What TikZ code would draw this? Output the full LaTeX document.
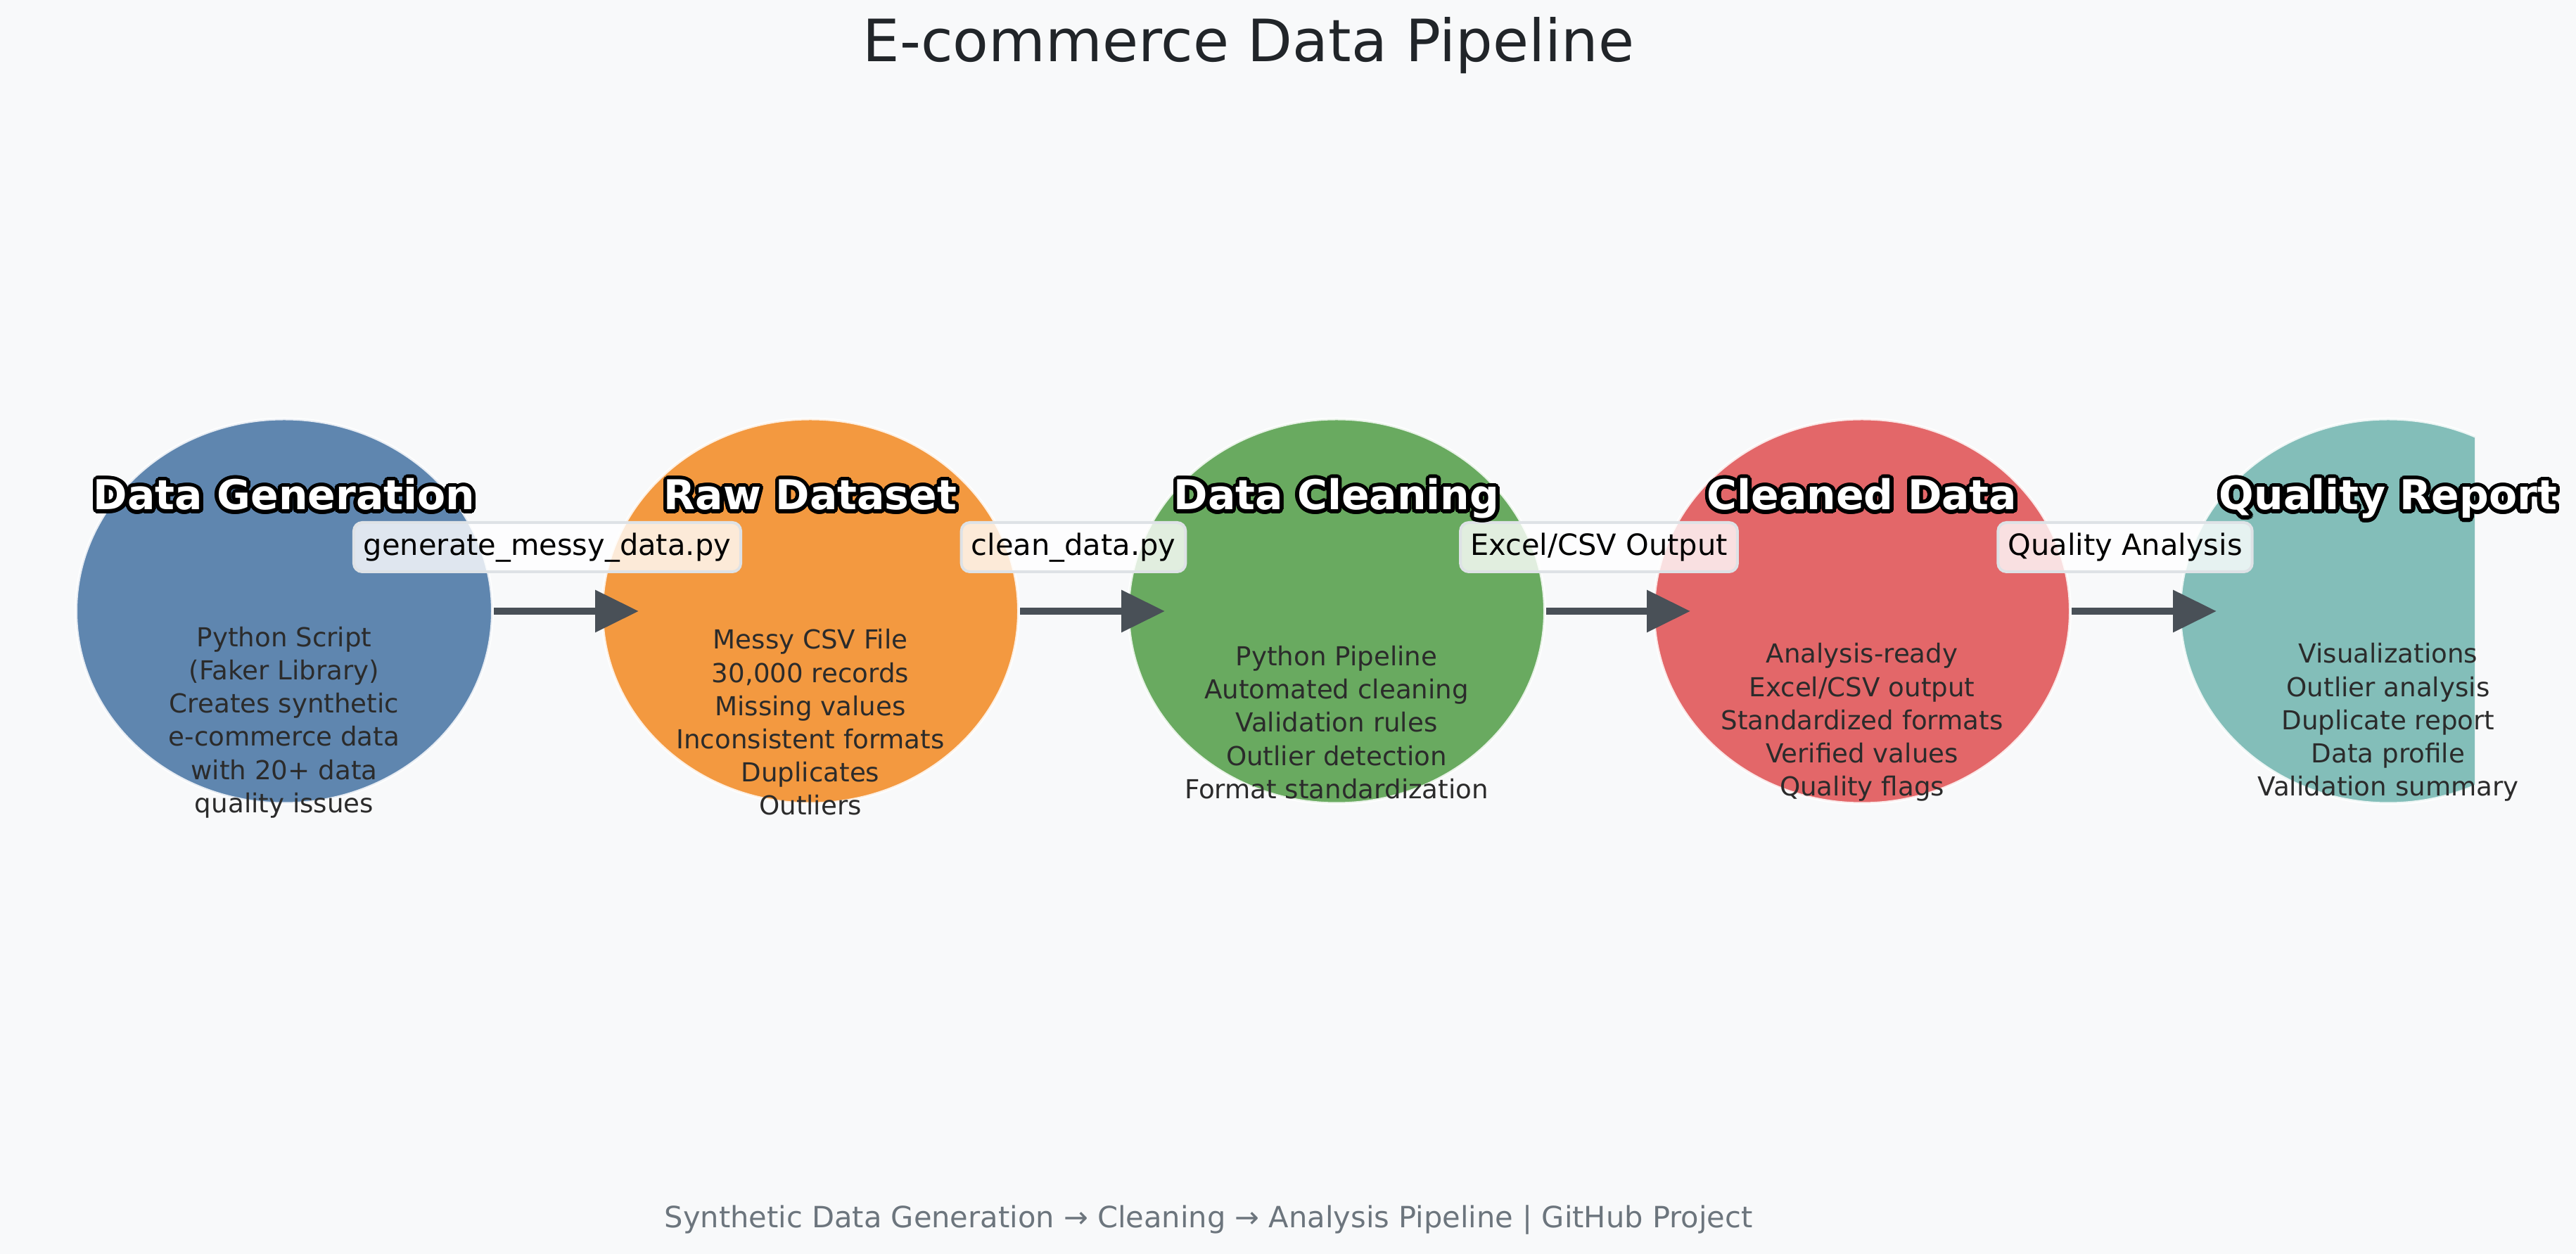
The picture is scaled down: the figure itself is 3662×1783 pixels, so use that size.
\documentclass[tikz,border=0pt]{standalone}
\usepackage{fontspec}
\setmainfont{DejaVu Sans}
\usetikzlibrary{shapes.geometric,arrows.meta}
\definecolor{bg}{HTML}{F8F9FA}
\definecolor{cblue}{RGB}{95,134,175}
\definecolor{corange}{RGB}{243,153,64}
\definecolor{cgreen}{RGB}{105,170,96}
\definecolor{cred}{RGB}{227,103,105}
\definecolor{cteal}{RGB}{131,190,185}
\definecolor{titlecol}{HTML}{212529}
\definecolor{bodycol}{HTML}{2B2B2B}
\definecolor{arrowcol}{HTML}{495057}
\definecolor{lblborder}{HTML}{DEE2E6}
\definecolor{footcol}{HTML}{6C757D}
\newcommand\stagehead[4]{%
  \foreach \a in {0,20,...,340}{\node[headfont,text=black,anchor=base] at ([shift={(\a:1.4pt)}]#2,#3) {#4};}
  \node[headfont,text=white,anchor=base] (#1) at (#2,#3) {#4};}
\begin{document}
\begin{tikzpicture}[x=0.25pt,y=-0.25pt,
  stage/.style={ellipse, inner sep=0pt, minimum width=148pt, minimum height=136.75pt,
    draw=white, draw opacity=0.85, line width=1pt},
  headfont/.style={font=\fontsize{14.6}{16}\selectfont\bfseries, inner sep=0pt},
  body/.style={font=\fontsize{9.3}{11.8}\selectfont, text=bodycol, align=center},
  elabel/.style={draw=lblborder, line width=1pt, fill=white, fill opacity=0.8, text opacity=1,
    rounded corners=3pt, font=\fontsize{10.4}{12.5}\selectfont, text=black,
    inner xsep=3.5pt, inner ysep=0pt, text height=8pt, text depth=2.4pt, minimum height=17.5pt},
  flow/.style={draw=arrowcol, line width=2.5pt, -{Triangle[length=15.5pt,width=14.5pt]}},
  titlestyle/.style={font=\fontsize{20.75}{24}\selectfont, text=titlecol},
  footstyle/.style={font=\fontsize{10.4}{12.5}\selectfont, text=footcol}]
\useasboundingbox (0,0) rectangle (3662,1783);
\fill[bg] (0,0) rectangle (3662,1783);

\node[titlestyle] (title) at (1775,65) {E-commerce Data Pipeline};

\node[stage, fill=cblue] (c1) at (404,869) {};
\node[stage, fill=corange] (c2) at (1152,869) {};
\node[stage, fill=cgreen] (c3) at (1900,869) {};
\node[stage, fill=cred] (c4) at (2647,869) {};
\begin{scope}
  \clip (0,0) rectangle (3518,1783);
  \node[stage, fill=cteal] (c5) at (3395,869) {};
\end{scope}

\draw[flow] (c1.east) -- ([xshift=13.5pt]c2.west);
\draw[flow] (c2.east) -- ([xshift=13.5pt]c3.west);
\draw[flow] (c3.east) -- ([xshift=13.5pt]c4.west);
\draw[flow] (c4.east) -- ([xshift=13.5pt]c5.west);

\node[elabel] (l1) at (778,778) {generate\_messy\_data.py};
\node[elabel] (l2) at (1526,778) {clean\_data.py};
\node[elabel] (l3) at (2273,778) {Excel/CSV Output};
\node[elabel] (l4) at (3021,778) {Quality Analysis};

\stagehead{h1}{404}{725}{Data Generation}
\stagehead{h2}{1152}{725}{Raw Dataset}
\stagehead{h3}{1900}{725}{Data Cleaning}
\stagehead{h4}{2647}{725}{Cleaned Data}
\stagehead{h5}{3395}{725}{Quality Report}

\node[body] (b1) at (404,1027) {Python Script\\(Faker Library)\\Creates synthetic\\e-commerce data\\with 20+ data\\quality issues};
\node[body] (b2) at (1152,1027) {Messy CSV File\\30,000 records\\Missing values\\Inconsistent formats\\Duplicates\\Outliers};
\node[body] (b3) at (1900,1027) {Python Pipeline\\Automated cleaning\\Validation rules\\Outlier detection\\Format standardization};
\node[body] (b4) at (2647,1027) {Analysis-ready\\Excel/CSV output\\Standardized formats\\Verified values\\Quality flags};
\node[body] (b5) at (3395,1027) {Visualizations\\Outlier analysis\\Duplicate report\\Data profile\\Validation summary};

\node[footstyle] (foot) at (1718,1735) {Synthetic Data Generation → Cleaning → Analysis Pipeline | GitHub Project};
\end{tikzpicture}
\end{document}
